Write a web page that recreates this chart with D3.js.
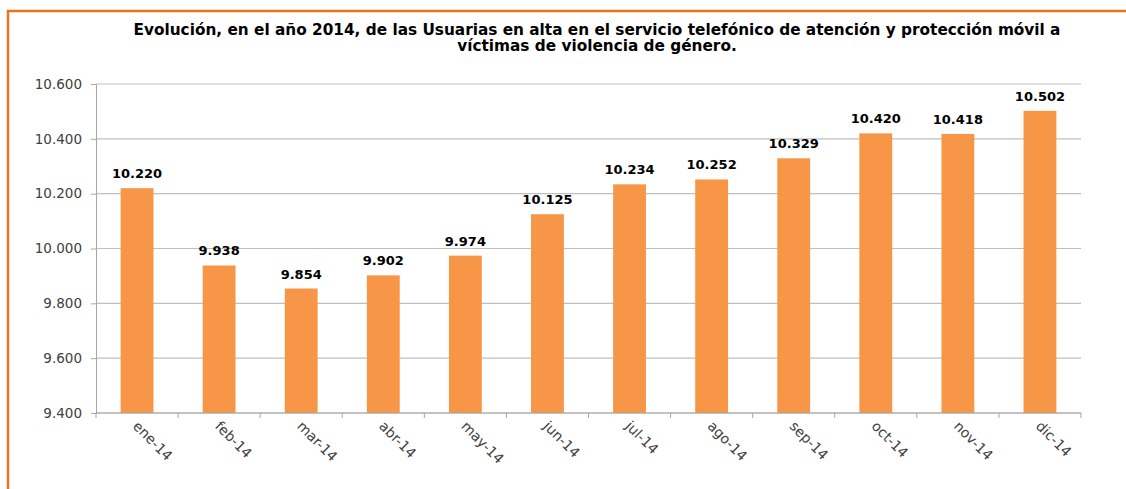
<!DOCTYPE html>
<html>
<head>
<meta charset="utf-8">
<script src="https://cdn.jsdelivr.net/npm/d3@7"></script>
<style>
  body { margin: 0; background: #fff; }
  svg { display: block; }
</style>
</head>
<body>
<svg id="chart" width="1126" height="489"></svg>
<script>
const months = ["ene-14", "feb-14", "mar-14", "abr-14", "may-14", "jun-14",
                "jul-14", "ago-14", "sep-14", "oct-14", "nov-14", "dic-14"];
const usuarias = [10220, 9938, 9854, 9902, 9974, 10125, 10234, 10252, 10329, 10420, 10418, 10502];
const yTicks = [9400, 9600, 9800, 10000, 10200, 10400, 10600];
const titleLines = [
    "Evolución, en el año 2014, de las Usuarias en alta en el servicio telefónico de atención y protección móvil a",
    "víctimas de violencia de género."
];

const svg = d3.select("#chart");
const font = "'DejaVu Sans', sans-serif";

const locale = d3.formatLocale({ decimal: ",", thousands: ".", grouping: [3], currency: ["", "€"] });
const fmt = locale.format(",d");

const plotLeft = 96, plotRight = 1081, plotTop = 84, plotBottom = 413;

// marco naranja
svg.append("path")
    .attr("d", "M8,489 L8,11 L1126,11")
    .attr("fill", "none")
    .attr("stroke", "#E8741A")
    .attr("stroke-width", 2.5);

// titulo
svg.append("text")
    .attr("x", 597)
    .attr("y", 35)
    .attr("text-anchor", "middle")
    .style("font-family", font)
    .style("font-weight", "bold")
    .style("font-size", "15.3px")
    .style("fill", "#000")
    .selectAll("tspan")
    .data(titleLines)
    .enter()
    .append("tspan")
    .attr("x", 597)
    .attr("dy", (d, i) => i === 0 ? 0 : 16)
    .text(d => d);

const x = d3.scaleBand()
    .domain(months)
    .range([plotLeft, plotRight])
    .paddingInner(0.6)
    .paddingOuter(0.3);

const y = d3.scaleLinear()
    .domain([9400, 10600])
    .range([plotBottom, plotTop]);

// rejilla
svg.append("g")
    .selectAll("line")
    .data(yTicks)
    .enter()
    .append("line")
    .attr("x1", plotLeft)
    .attr("x2", plotRight)
    .attr("y1", d => y(d))
    .attr("y2", d => y(d))
    .attr("stroke", "#BFBFBF")
    .attr("stroke-width", 1.2);

// eje y
const yAxis = svg.append("g")
    .attr("transform", `translate(${plotLeft},0)`)
    .call(d3.axisLeft(y).tickValues(yTicks).tickSize(5).tickPadding(9).tickFormat(fmt));
yAxis.select(".domain").attr("stroke", "#A6A6A6");
yAxis.selectAll(".tick line").attr("stroke", "#A6A6A6");
yAxis.selectAll("text")
    .style("font-family", font)
    .style("font-size", "13.5px")
    .style("fill", "#404040");

// barras
svg.append("g")
    .selectAll("rect")
    .data(usuarias)
    .enter()
    .append("rect")
    .attr("x", (d, i) => x(months[i]))
    .attr("y", d => y(d))
    .attr("width", x.bandwidth())
    .attr("height", d => plotBottom - y(d))
    .attr("fill", "#F79646");

// etiquetas de datos
svg.append("g")
    .selectAll("text")
    .data(usuarias)
    .enter()
    .append("text")
    .attr("x", (d, i) => x(months[i]) + x.bandwidth() / 2)
    .attr("y", d => y(d) - 10)
    .attr("text-anchor", "middle")
    .style("font-family", font)
    .style("font-weight", "bold")
    .style("font-size", "13px")
    .style("fill", "#000")
    .text(d => fmt(d));

// eje x
const xAxis = svg.append("g")
    .attr("transform", `translate(0,${plotBottom})`);
xAxis.append("line")
    .attr("x1", plotLeft)
    .attr("x2", plotRight)
    .attr("stroke", "#A6A6A6")
    .attr("stroke-width", 1.2);
xAxis.selectAll(".tk")
    .data(d3.range(months.length + 1))
    .enter()
    .append("line")
    .attr("class", "tk")
    .attr("x1", i => plotLeft + i * (plotRight - plotLeft) / months.length)
    .attr("x2", i => plotLeft + i * (plotRight - plotLeft) / months.length)
    .attr("y1", 0)
    .attr("y2", 5)
    .attr("stroke", "#A6A6A6");
xAxis.selectAll(".lbl")
    .data(months)
    .enter()
    .append("text")
    .attr("class", "lbl")
    .attr("transform", d => `translate(${x(d) + x.bandwidth() / 2 - 5},14) rotate(45)`)
    .style("font-family", font)
    .style("font-size", "14px")
    .style("fill", "#404040")
    .text(d => d);
</script>
</body>
</html>
